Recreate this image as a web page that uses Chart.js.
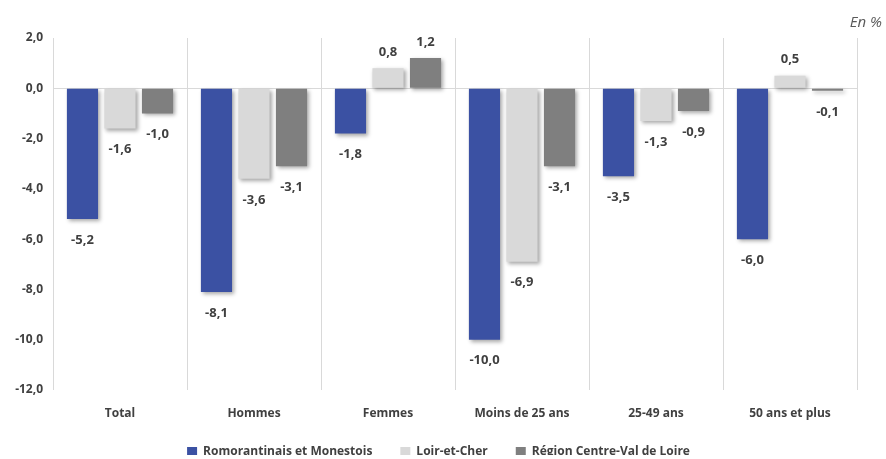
<!DOCTYPE html>
<html>
<head>
<meta charset="utf-8">
<script src="https://cdn.jsdelivr.net/npm/chart.js@4/dist/chart.umd.min.js"></script>
<style>
  html, body { margin: 0; padding: 0; background: #fff; }
  #wrap { width: 886px; height: 459px; position: relative; }
</style>
</head>
<body>
<div id="wrap"><canvas id="graphique"></canvas></div>
<script>
const categories = ['Total', 'Hommes', 'Femmes', 'Moins de 25 ans', '25-49 ans', '50 ans et plus'];
const romorantinais = [-5.2, -8.1, -1.8, -10.0, -3.5, -6.0];
const loirEtCher = [-1.6, -3.6, 0.8, -6.9, -1.3, 0.5];
const regionCVL = [-1.0, -3.1, 1.2, -3.1, -0.9, -0.1];
const seriesNames = ['Romorantinais et Monestois', 'Loir-et-Cher', 'Région Centre-Val de Loire'];
const yTicks = [2, 0, -2, -4, -6, -8, -10, -12];

const police = '"Open Sans", sans-serif';
const fmt = v => v.toFixed(1).replace('.', ',');

// ombre portée des barres, comme dans Excel
const ombre = {
  id: 'ombre',
  beforeDatasetsDraw(chart) {
    const ctx = chart.ctx;
    ctx.save();
    ctx.shadowColor = 'rgba(0,0,0,0.35)';
    ctx.shadowBlur = 4;
    ctx.shadowOffsetX = 2;
    ctx.shadowOffsetY = 2;
  },
  afterDatasetsDraw(chart) {
    chart.ctx.restore();
  }
};

// légende : hauteur fixe, puis petit décalage
const placeLegende = {
  id: 'placeLegende',
  beforeLayout(chart) {
    const leg = chart.legend;
    if (leg && !leg._patched) {
      const fit = leg.fit.bind(leg);
      leg.fit = function () { fit(); this.height = 37; };
      leg._patched = true;
    }
  },
  afterLayout(chart) {
    const leg = chart.legend;
    leg.top -= 4; leg.bottom -= 4;
    leg.left += 10; leg.right += 10;
  }
};

const etiquettes = {
  id: 'etiquettes',
  afterDraw(chart) {
    const ctx = chart.ctx;
    ctx.save();
    ctx.font = 'bold 13px ' + police;
    ctx.fillStyle = '#404040';
    ctx.textAlign = 'center';
    ctx.textBaseline = 'middle';
    chart.data.datasets.forEach((ds, i) => {
      chart.getDatasetMeta(i).data.forEach((bar, j) => {
        const v = ds.data[j];
        const y = v < 0 ? bar.y + 21 : bar.y - 16;
        ctx.fillText(fmt(v), bar.x, y);
      });
    });
    ctx.font = 'italic 15px ' + police;
    ctx.fillStyle = '#595959';
    ctx.textAlign = 'right';
    ctx.fillText('En %', 882, 23);
    ctx.restore();
  }
};

new Chart(document.getElementById('graphique').getContext('2d'), {
  type: 'bar',
  data: {
    labels: categories,
    datasets: [
      { label: seriesNames[0], data: romorantinais, backgroundColor: '#3B51A3' },
      { label: seriesNames[1], data: loirEtCher, backgroundColor: '#D9D9D9' },
      { label: seriesNames[2], data: regionCVL, backgroundColor: '#7F7F7F' }
    ]
  },
  options: {
    responsive: true,
    maintainAspectRatio: false,
    animation: false,
    categoryPercentage: 0.84,
    barPercentage: 0.83,
    layout: { padding: { top: 38, right: 29, left: 0, bottom: 0 } },
    plugins: {
      tooltip: { enabled: false },
      legend: {
        position: 'bottom',
        labels: {
          boxWidth: 10,
          boxHeight: 10,
          padding: 28,
          color: '#404040',
          font: { family: police, size: 12, weight: 'bold' }
        }
      }
    },
    scales: {
      x: {
        afterFit(scale) { scale.height = 32; },
        grid: { offset: true, color: '#D9D9D9', drawTicks: false },
        border: { display: false },
        ticks: {
          color: '#404040',
          padding: 16,
          font: { family: police, size: 12, weight: 'bold' }
        }
      },
      y: {
        min: -12,
        max: 2,
        afterFit(scale) { scale.width = 53; },
        afterBuildTicks(scale) { scale.ticks = yTicks.map(v => ({ value: v })); },
        grid: {
          color: ctx => ctx.tick && ctx.tick.value === 0 ? '#D9D9D9' : 'rgba(0,0,0,0)',
          drawTicks: false
        },
        border: { display: false },
        ticks: {
          color: '#404040',
          padding: 10,
          font: { family: police, size: 12, weight: 'bold' },
          callback: v => fmt(v)
        }
      }
    }
  },
  plugins: [ombre, placeLegende, etiquettes]
});
</script>
</body>
</html>
